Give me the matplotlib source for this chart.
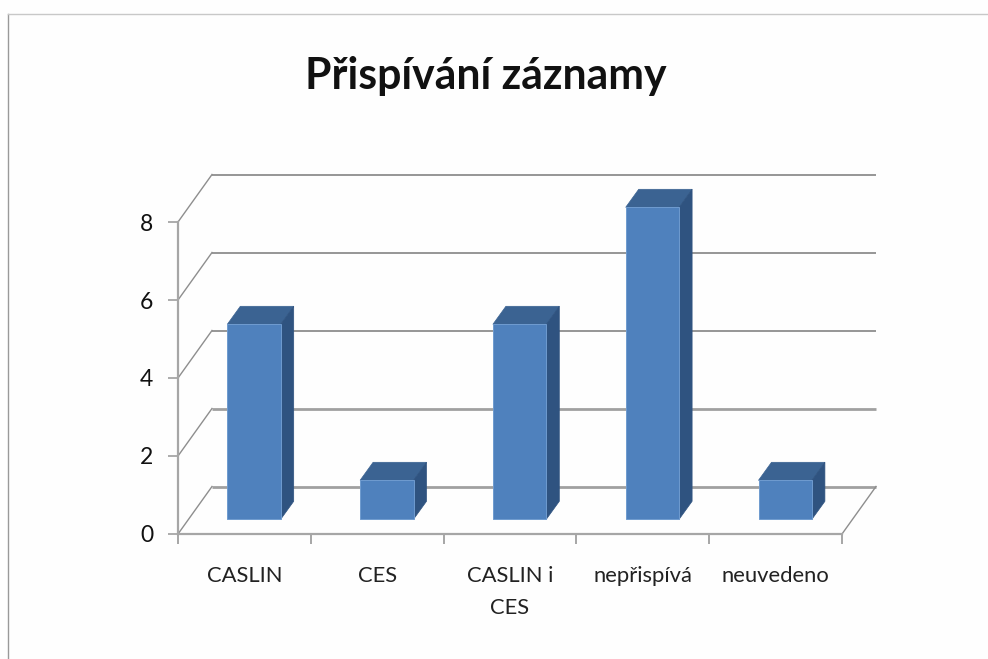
#!/usr/bin/env python
# -*- coding: utf-8 -*-
"""
Pseudo 3D column chart, Prispivani zaznamy
"""

import matplotlib
matplotlib.use("Agg")
import matplotlib.pyplot as plt
from matplotlib.patches import Polygon
from matplotlib.transforms import Affine2D

title = "Přispívání záznamy"
categories = ["CASLIN", "CES", "CASLIN i\nCES", "nepřispívá", "neuvedeno"]
values = [5, 1, 5, 8, 1]
y_ticks = [0, 2, 4, 6, 8]

plt.rcParams['font.family'] = ['Lato', 'DejaVu Sans']

fig = plt.figure(figsize=(9.88, 6.59), dpi=100, facecolor='#fefefe')
ax = fig.add_axes([178 / 988, 1 - 534 / 659, 664 / 988, 312 / 659])
ax.set_xlim(0, len(categories))
ax.set_ylim(0, 8)
ax.patch.set_alpha(0)

#  Pixels per data unit, depth of the walls and of the columns
px_x = 664 / len(categories)
px_y = 312 / 8
wall_dx, wall_dy = 34 / px_x, 47.5 / px_y
bar_dx, bar_dy = 13 / px_x, 18 / px_y

#  Gridlines run along the side wall and the back wall
for tick in y_ticks:
    lw = 2.0 if tick in (0, 2) else 1.3
    color = '#a0a0a0' if tick in (0, 2) else '#8e8e8e'
    ax.plot([wall_dx, len(categories) + wall_dx],
            [tick + wall_dy, tick + wall_dy],
            color=color, lw=lw, clip_on=False, zorder=1,
            solid_capstyle='butt')
    ax.plot([0, wall_dx], [tick, tick + wall_dy], color='#8e8e8e', lw=1.0,
            clip_on=False, zorder=1)
ax.plot([len(categories), len(categories) + wall_dx], [0, wall_dy],
        color='#8e8e8e', lw=1.0, clip_on=False, zorder=1)

#  Columns stand in the middle of the floor, so the front face is shifted
shift = Affine2D().translate(9.6, 14.7)
positions = [i + 0.5 for i in range(len(categories))]
bars = ax.bar(positions, values, width=53.4 / px_x, color='#4f81bd',
              edgecolor='#6f9bcf', linewidth=0.7,
              transform=ax.transData + shift, clip_on=False, zorder=4)

for rect, value in zip(bars, values):
    x0 = rect.get_x()
    x1 = x0 + rect.get_width()
    top = [(x0, value), (x1, value), (x1 + bar_dx, value + bar_dy),
           (x0 + bar_dx, value + bar_dy)]
    side = [(x1, 0), (x1 + bar_dx, bar_dy), (x1 + bar_dx, value + bar_dy),
            (x1, value)]
    ax.add_patch(Polygon(top, closed=True, facecolor='#3b6392',
                         edgecolor='#3b6392', linewidth=0.5,
                         transform=ax.transData + shift, clip_on=False,
                         zorder=3))
    ax.add_patch(Polygon(side, closed=True, facecolor='#2f5380',
                         edgecolor='#2f5380', linewidth=0.5,
                         transform=ax.transData + shift, clip_on=False,
                         zorder=3))

for name in ['top', 'right']:
    ax.spines[name].set_visible(False)
for name in ['left', 'bottom']:
    ax.spines[name].set_color('#a6a6a6')
    ax.spines[name].set_linewidth(1.6)
    ax.spines[name].set_zorder(2)

ax.set_yticks(y_ticks)
ax.set_xticks(range(len(categories) + 1))
ax.set_xticklabels([])
ax.set_xticks(positions, categories, minor=True)
ax.tick_params(axis='y', length=7, width=1.3, color='#a6a6a6', labelsize=16.5,
               pad=11, labelcolor='#111111')
ax.tick_params(axis='x', which='major', length=7, width=1.1, color='#8e8e8e')
ax.tick_params(axis='x', which='minor', length=0, labelsize=15.8, pad=23,
               labelcolor='#222222')
for label in ax.get_xticklabels(minor=True):
    label.set_linespacing(1.75)

fig.text(486 / 988, 1 - 76 / 659, title, ha='center', va='center',
         fontsize=30.8, fontweight='bold', color='#111111')

#  Thin frame of the pasted picture, only top and left are visible
fig.add_artist(plt.Line2D([7.5 / 988, 7.5 / 988], [0, 1 - 13.5 / 659],
                          color='#999999', lw=1.0))
fig.add_artist(plt.Line2D([7.5 / 988, 1], [1 - 13.5 / 659, 1 - 13.5 / 659],
                          color='#c8c8c8', lw=1.0))

fig.savefig('out.png', dpi=100, facecolor=fig.get_facecolor())
